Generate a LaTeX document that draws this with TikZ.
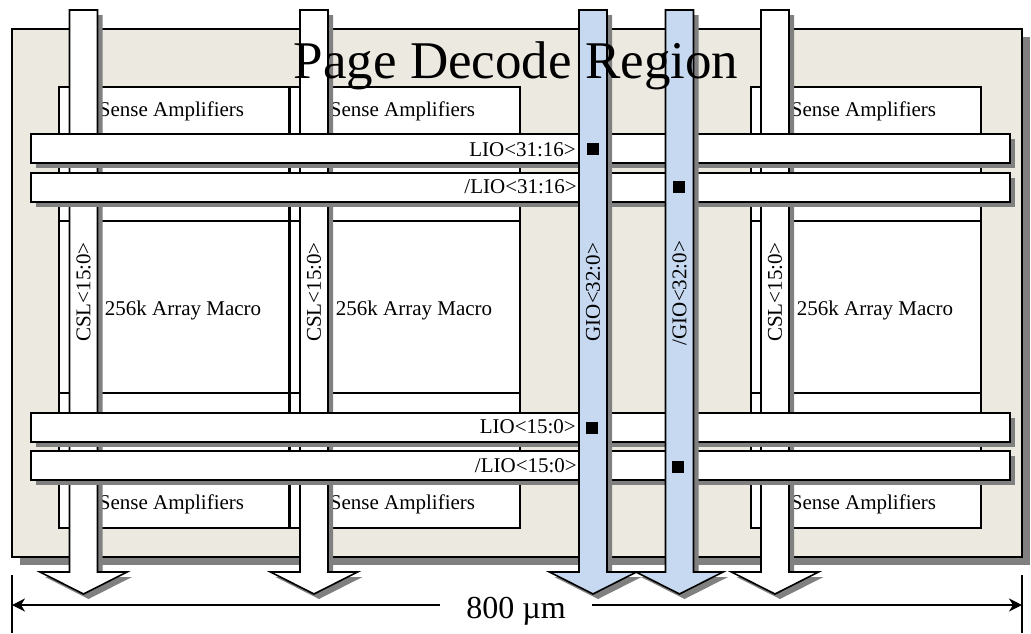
\documentclass[tikz,border=0pt]{standalone}
\usepackage{fontspec}
\setmainfont{Liberation Serif}
\usepackage{xcolor}
\usepackage{tikz}
\usetikzlibrary{arrows.meta, shadows}

\definecolor{regionbg}{RGB}{236,233,224}
\definecolor{giobg}{RGB}{198,217,240}
\definecolor{shadowgray}{RGB}{128,128,128}

\begin{document}
\begin{tikzpicture}[
    x=1pt, y=-1pt,
    region/.style={draw, line width=1.6pt, fill=regionbg,
                   drop shadow={shadow xshift=8pt, shadow yshift=-8pt, opacity=1, fill=shadowgray}},
    block/.style={draw, line width=1.6pt, fill=white},
    bus/.style={draw, line width=1.6pt, fill=white,
                drop shadow={shadow xshift=5pt, shadow yshift=-5pt, opacity=1, fill=shadowgray}},
    gio/.style={bus, fill=giobg},
    pics/busarrow/.style={code={
        \path[#1] (-14,10) -- (-14,572) -- (-43.5,572) -- (0,594)
                  -- (43.5,572) -- (14,572) -- (14,10) -- cycle;}},
    txt/.style={font=\fontsize{21}{25}\selectfont, inner sep=0pt},
    sq/.style={fill=black, minimum size=12pt, inner sep=0pt},
    dimline/.style={-{Stealth[length=13pt, width=13pt, inset=4pt]}, line width=1.4pt}
]
\useasboundingbox (0,0) rectangle (1031,633);

\draw[region] (12,29) rectangle (1022,557);

% array blocks
\draw[block] (59,87) rectangle (289,221) (59,221) rectangle (289,393) (59,393) rectangle (289,528);
\draw[block] (290,87) rectangle (520,221) (290,221) rectangle (520,393) (290,393) rectangle (520,528);
\draw[block] (751,87) rectangle (981,221) (751,221) rectangle (981,393) (751,393) rectangle (981,528);
\node[txt, anchor=base] (saTopA) at (171.5,116) {Sense Amplifiers};
\node[txt, anchor=base] (arrA) at (183,315) {256k Array Macro};
\node[txt, anchor=base] (saBotA) at (171.5,509) {Sense Amplifiers};
\node[txt, anchor=base] (saTopB) at (402.5,116) {Sense Amplifiers};
\node[txt, anchor=base] (arrB) at (414,315) {256k Array Macro};
\node[txt, anchor=base] (saBotB) at (402.5,509) {Sense Amplifiers};
\node[txt, anchor=base] (saTopC) at (863.5,116) {Sense Amplifiers};
\node[txt, anchor=base] (arrC) at (875,315) {256k Array Macro};
\node[txt, anchor=base] (saBotC) at (863.5,509) {Sense Amplifiers};

% column select lines
\pic at (83.5,0) {busarrow=bus};
\pic at (314,0) {busarrow=bus};
\pic at (775,0) {busarrow=bus};
\node[txt, rotate=90] (cslA) at (83.5,292) {CSL<15:0>};
\node[txt, rotate=90] (cslB) at (314,292) {CSL<15:0>};
\node[txt, rotate=90] (cslC) at (775,292) {CSL<15:0>};

% local IO lines
\draw[bus] (31,134) rectangle (1010,163);
\draw[bus] (31,173) rectangle (1010,202);
\draw[bus] (31,413) rectangle (1010,442);
\draw[bus] (31,451) rectangle (1010,480);
\node[txt, anchor=base east] (lioHi) at (576,156) {LIO<31:16>};
\node[txt, anchor=base east] (nlioHi) at (577,193) {/LIO<31:16>};
\node[txt, anchor=base east] (lioLo) at (576,433) {LIO<15:0>};
\node[txt, anchor=base east] (nlioLo) at (577,472) {/LIO<15:0>};

% global IO lines
\pic at (593,0) {busarrow=gio};
\pic at (679.5,0) {busarrow=gio};
\node[txt, rotate=90] (gio) at (593,292) {GIO<32:0>};
\node[txt, rotate=90] (ngio) at (679.5,293) {/GIO<32:0>};

\node[sq] (sqA) at (593,149) {};
\node[sq] (sqB) at (679,187) {};
\node[sq] (sqC) at (592,428) {};
\node[sq] (sqD) at (678,467) {};

\node[font=\fontsize{53}{60}\selectfont, anchor=base, inner sep=0pt] (title) at (516,78) {Page Decode Region};

% width
\coordinate (dimL) at (12,605);
\coordinate (dimR) at (1022,605);
\node[font=\fontsize{32}{38}\selectfont, anchor=base, inner xsep=26pt] (dim) at (516,618) {800 µm};
\draw[dimline] (dim.west |- dimL) -- (dimL);
\draw[dimline] (dim.east |- dimR) -- (dimR);
\draw[line width=1.4pt] (dimL) ++(0,-30) -- ++(0,58);
\draw[line width=1.4pt] (dimR) ++(0,-30) -- ++(0,58);
\end{tikzpicture}
\end{document}
